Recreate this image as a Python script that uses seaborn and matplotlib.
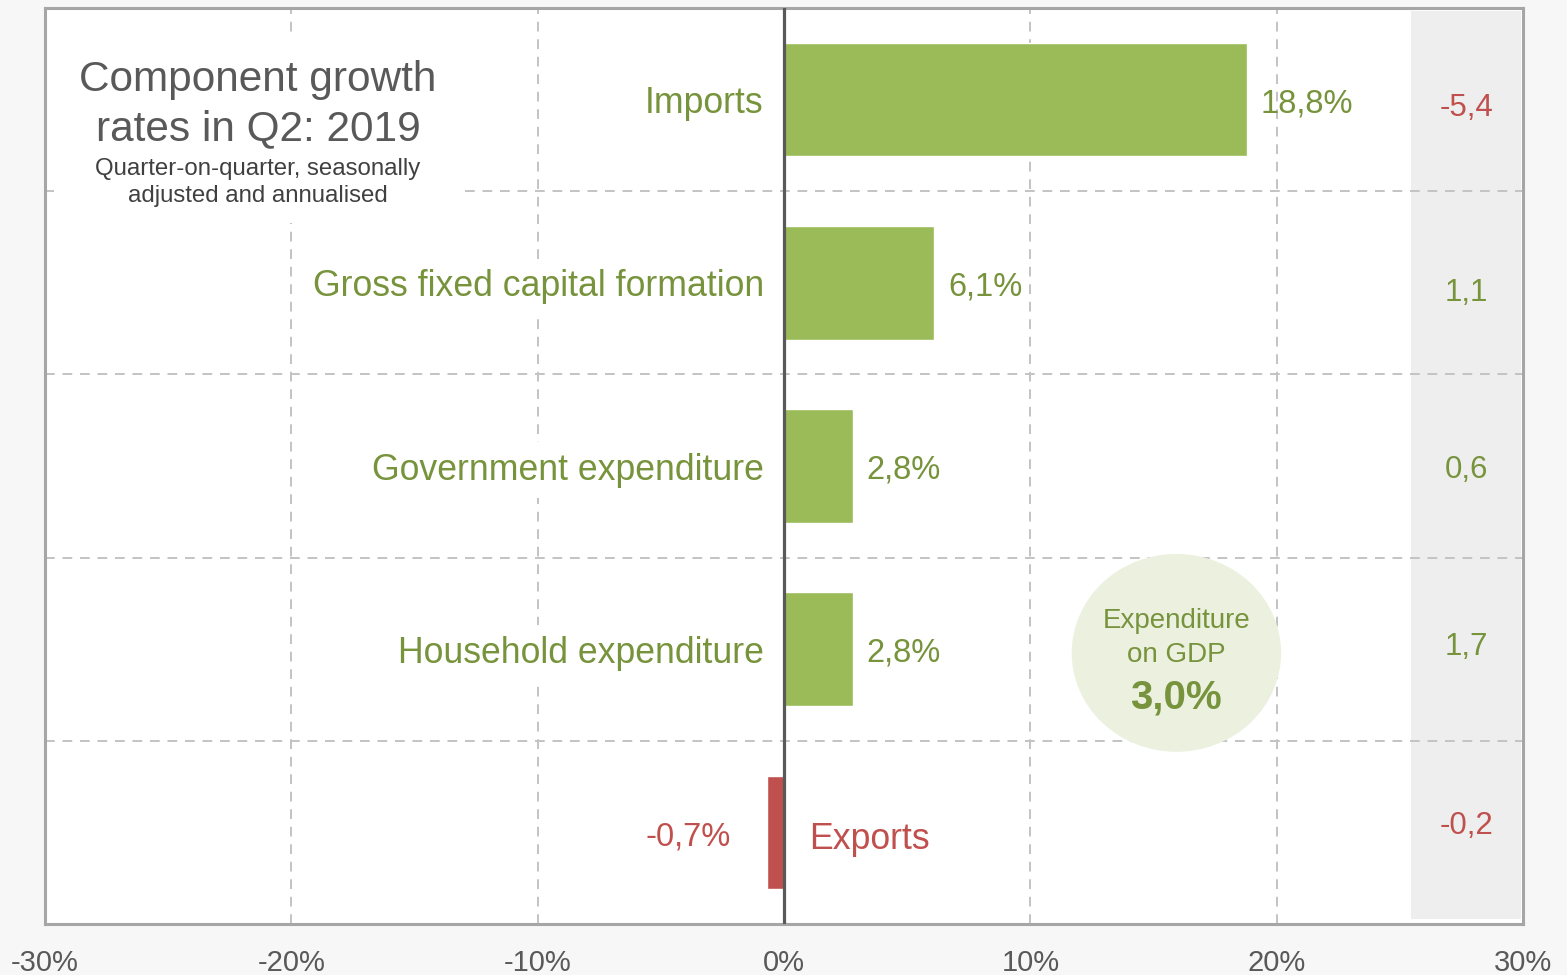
import matplotlib
matplotlib.use('Agg')
import matplotlib.pyplot as plt
from matplotlib.patches import Ellipse, Rectangle
import seaborn as sns
import pandas as pd

# Chart data
components = ['Imports', 'Gross fixed capital formation', 'Government expenditure',
              'Household expenditure', 'Exports']
growth = [18.8, 6.1, 2.8, 2.8, -0.7]
growth_labels = ['18,8%', '6,1%', '2,8%', '2,8%', '-0,7%']
contributions = ['-5,4', '1,1', '0,6', '1,7', '-0,2']
gdp_growth_label = '3,0%'
x_ticks = [-30, -20, -10, 0, 10, 20, 30]
x_tick_labels = ['-30%', '-20%', '-10%', '0%', '10%', '20%', '30%']

# small vertical nudges (points) for the contribution column, as in the original
contrib_dy = [-6, -7, -3, 1.5, 4.5]

green_bar = '#9bbb59'
green_text = '#77933c'
red = '#c0504d'
grey_text = '#595959'
grid_col = '#c3c3c3'

sns.set_style('white')
plt.rcParams['font.family'] = ['Liberation Sans', 'DejaVu Sans']

df = pd.DataFrame({'component': components, 'growth': growth})
bar_colors = {c: (green_bar if g >= 0 else red) for c, g in zip(components, growth)}

fig = plt.figure(figsize=(15.67, 9.75), dpi=100, facecolor='#f7f7f7')
ax = fig.add_axes([45 / 1567, 1 - 924 / 975, (1523 - 45) / 1567, (924 - 8) / 975])
ax.set_facecolor('white')

sns.barplot(data=df, x='growth', y='component', hue='component', palette=bar_colors,
            width=0.62, saturation=1, legend=False, ax=ax, zorder=2)

ax.set_xlim(-30, 30)
ax.set_ylim(4.5, -0.5)
ax.set_yticks([])
ax.set_ylabel('')
ax.set_xlabel('')
ax.set_xticks(x_ticks)
ax.set_xticklabels(x_tick_labels)
ax.tick_params(axis='x', length=0, pad=18, labelsize=21, labelcolor=grey_text)

for s in ax.spines.values():
    s.set_color('#a6a6a6')
    s.set_linewidth(2.2)

# grey contribution column
ax.axvspan(25.45, 29.9, ymin=0.006, ymax=0.997, color='#eeeeee', zorder=0.5, lw=0)

# dashed grid
for y in [0.5, 1.5, 2.5, 3.5]:
    ax.axhline(y, color=grid_col, lw=1.4, ls=(0, (5, 4)), zorder=1)
for x in [-20, -10, 10, 20]:
    ax.axvline(x, color=grid_col, lw=1.4, ls=(0, (5, 4)), zorder=1)
ax.axvline(0, color='#595959', lw=2.3, zorder=3)

# title box hides the grid
ax.add_patch(Rectangle((-29.64, -0.336), 16.65, 1.01, facecolor='white', edgecolor='none', zorder=3))
fig.text(258 / 1567, 1 - 105 / 975, 'Component growth\nrates in Q2: 2019', ha='center', va='center',
         fontsize=30.5, color=grey_text, linespacing=1.3, zorder=5)
fig.text(258 / 1567, 1 - 182.5 / 975, 'Quarter-on-quarter, seasonally\nadjusted and annualised',
         ha='center', va='center', fontsize=17.3, color='#404040', linespacing=1.32, zorder=5)

box = dict(boxstyle='square,pad=0.3', facecolor='white', edgecolor='none')
for i, (name, g, lab, contrib) in enumerate(zip(components, growth, growth_labels, contributions)):
    col = green_text if g >= 0 else red
    if g >= 0:
        ax.annotate(name, (0, i), xytext=(-14.5, -3), textcoords='offset points', ha='right', va='center',
                    fontsize=25.7, color=col, bbox=box, zorder=4)
        ax.annotate(lab, (g, i), xytext=(10, -3), textcoords='offset points', ha='left', va='center',
                    fontsize=23.5, color=col, zorder=4)
    else:
        ax.annotate(name, (0, i), xytext=(18, -5), textcoords='offset points', ha='left', va='center',
                    fontsize=25.7, color=col, zorder=4)
        ax.annotate(lab, (g, i), xytext=(-26, -3), textcoords='offset points', ha='right', va='center',
                    fontsize=23.5, color=col, zorder=4)
    ax.annotate(contrib, (27.7, i), xytext=(0, contrib_dy[i]), textcoords='offset points',
                ha='center', va='center', fontsize=22.5,
                color=red if contrib.startswith('-') else green_text, zorder=4)

# GDP bubble
ax.add_patch(Ellipse((15.93, 3.02), 8.5, 1.08, facecolor='#ebf0df', edgecolor='none', zorder=3))
ax.text(15.93, 2.845, 'Expenditure', ha='center', va='center', fontsize=20, color=green_text, zorder=4)
ax.text(15.93, 3.03, 'on GDP', ha='center', va='center', fontsize=20, color=green_text, zorder=4)
ax.text(15.93, 3.265, gdp_growth_label, ha='center', va='center', fontsize=29,
        fontweight='bold', color=green_text, zorder=4)

fig.savefig('out.png', dpi=100, facecolor=fig.get_facecolor())
